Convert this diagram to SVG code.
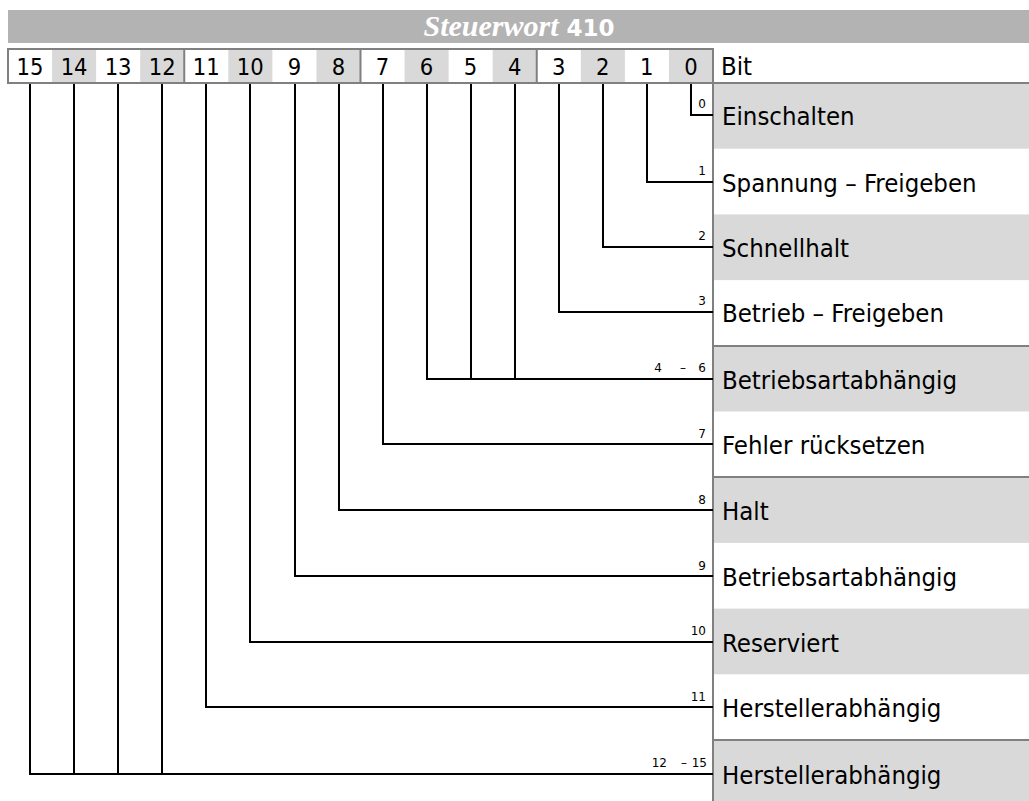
<svg xmlns="http://www.w3.org/2000/svg" width="1029" height="801" viewBox="0 0 1029 801">
<style>
.bg{fill:#ffffff}
.g{fill:#d9d9d9}
.frame{stroke:#808080;stroke-width:2;fill:none}
.con{stroke:#000000;stroke-width:2;fill:none}
.bit{font-family:"DejaVu Sans Condensed","DejaVu Sans",sans-serif;font-size:23.5px;fill:#000;text-anchor:middle}
.lbl{font-family:"DejaVu Sans Condensed","DejaVu Sans",sans-serif;font-size:25.5px;fill:#000}
.num{font-family:"DejaVu Sans","Liberation Sans",sans-serif;font-size:12px;fill:#000;text-anchor:end}
</style>
<rect x="0" y="0" width="1029" height="801" class="bg"/>
<g id="title">
<rect x="8" y="10" width="1021" height="33" fill="#b3b3b3"/>
<text x="519" y="36" text-anchor="middle" fill="#ffffff"><tspan font-family="'Liberation Serif',serif" font-style="italic" font-weight="bold" font-size="30">Steuerwort</tspan><tspan font-family="'DejaVu Sans',sans-serif" font-weight="bold" font-size="23"> 410</tspan></text>
</g>
<g id="bitrow">
<rect x="52.06" y="49" width="44.06" height="34" class="g"/>
<rect x="140.19" y="49" width="44.06" height="34" class="g"/>
<rect x="228.31" y="49" width="44.06" height="34" class="g"/>
<rect x="316.44" y="49" width="44.06" height="34" class="g"/>
<rect x="404.56" y="49" width="44.06" height="34" class="g"/>
<rect x="492.69" y="49" width="44.06" height="34" class="g"/>
<rect x="580.81" y="49" width="44.06" height="34" class="g"/>
<rect x="668.94" y="49" width="44.06" height="34" class="g"/>
<text class="bit" x="30" y="74.5">15</text>
<text class="bit" x="74.1" y="74.5">14</text>
<text class="bit" x="118.1" y="74.5">13</text>
<text class="bit" x="162.2" y="74.5">12</text>
<text class="bit" x="206.2" y="74.5">11</text>
<text class="bit" x="250.3" y="74.5">10</text>
<text class="bit" x="294.4" y="74.5">9</text>
<text class="bit" x="338.4" y="74.5">8</text>
<text class="bit" x="382.5" y="74.5">7</text>
<text class="bit" x="426.5" y="74.5">6</text>
<text class="bit" x="470.6" y="74.5">5</text>
<text class="bit" x="514.7" y="74.5">4</text>
<text class="bit" x="558.7" y="74.5">3</text>
<text class="bit" x="602.8" y="74.5">2</text>
<text class="bit" x="646.8" y="74.5">1</text>
<text class="bit" x="690.9" y="74.5">0</text>
<text class="lbl" x="721" y="74.5">Bit</text>
</g>
<g id="rows">
<rect x="713" y="83" width="316" height="65.7" class="g"/>
<rect x="713" y="214.4" width="316" height="65.7" class="g"/>
<rect x="713" y="345.8" width="316" height="65.7" class="g"/>
<rect x="713" y="477.2" width="316" height="65.7" class="g"/>
<rect x="713" y="608.6" width="316" height="65.7" class="g"/>
<rect x="713" y="740" width="316" height="61" class="g"/>
</g>
<g id="frame">
<rect x="8" y="49" width="705" height="34" class="frame"/>
<path class="frame" d="M184.25,49V83M360.5,49V83M536.75,49V83M713,49V801M713,83H1029M713,346H1029M713,477H1029M713,740H1029"/>
</g>
<g id="connectors">
<path class="con" d="M691,84V115H713"/>
<path class="con" d="M647,84V182H713"/>
<path class="con" d="M603,84V247H713"/>
<path class="con" d="M559,84V312H713"/>
<path class="con" d="M427,84V379H713M471,84V379M515,84V379"/>
<path class="con" d="M383,84V444H713"/>
<path class="con" d="M339,84V510H713"/>
<path class="con" d="M295,84V576H713"/>
<path class="con" d="M250,84V642H713"/>
<path class="con" d="M206,84V707H713"/>
<path class="con" d="M30,84V774H713M74,84V774M118,84V774M162,84V774"/>
</g>
<g id="row0"><text class="num" x="706" y="108">0</text><text class="lbl" x="722" y="125">Einschalten</text></g>
<g id="row1"><text class="num" x="706" y="175">1</text><text class="lbl" x="722" y="191.5">Spannung – Freigeben</text></g>
<g id="row2"><text class="num" x="706" y="240">2</text><text class="lbl" x="722" y="256.5">Schnellhalt</text></g>
<g id="row3"><text class="num" x="706" y="305">3</text><text class="lbl" x="722" y="321.5">Betrieb – Freigeben</text></g>
<g id="row4"><text class="num" y="372"><tspan x="662">4</tspan><tspan x="686">–</tspan><tspan x="706">6</tspan></text><text class="lbl" x="722" y="388.5">Betriebsartabhängig</text></g>
<g id="row7"><text class="num" x="706" y="437.5">7</text><text class="lbl" x="722" y="454">Fehler rücksetzen</text></g>
<g id="row8"><text class="num" x="706" y="503.5">8</text><text class="lbl" x="722" y="520">Halt</text></g>
<g id="row9"><text class="num" x="706" y="569.5">9</text><text class="lbl" x="722" y="586">Betriebsartabhängig</text></g>
<g id="row10"><text class="num" x="706" y="635">10</text><text class="lbl" x="722" y="651.5">Reserviert</text></g>
<g id="row11"><text class="num" x="706" y="700.5">11</text><text class="lbl" x="722" y="717">Herstellerabhängig</text></g>
<g id="row12"><text class="num" y="767"><tspan x="667">12</tspan><tspan x="687">–</tspan><tspan x="707">15</tspan></text><text class="lbl" x="722" y="783.5">Herstellerabhängig</text></g>
</svg>
